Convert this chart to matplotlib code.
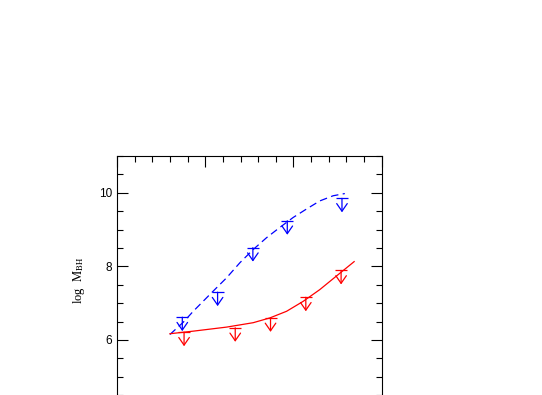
import matplotlib
matplotlib.use('Agg')
import matplotlib.pyplot as plt
from matplotlib.ticker import MultipleLocator

plt.rcParams['mathtext.fontset'] = 'stix'
plt.rcParams['font.family'] = ['Liberation Sans', 'DejaVu Sans']

# upper limits (cap positions)
blue_x = [0.74, 1.14, 1.54, 1.93, 2.55]
blue_y = [6.62, 7.30, 8.51, 9.24, 9.85]
red_x = [0.76, 1.34, 1.74, 2.14, 2.54]
red_y = [6.21, 6.33, 6.60, 7.16, 7.89]

# model curves
blue_cx = [0.600, 0.75, 0.864, 1.091, 1.242, 1.393, 1.544, 1.695, 1.846, 1.997, 2.148, 2.299, 2.450, 2.582]
blue_cy = [6.15, 6.48, 6.78, 7.33, 7.69, 8.10, 8.46, 8.78, 9.06, 9.33, 9.56, 9.78, 9.92, 9.98]
red_cx = [0.600, 0.864, 1.242, 1.544, 1.733, 1.922, 2.110, 2.299, 2.488, 2.688]
red_cy = [6.17, 6.24, 6.35, 6.47, 6.60, 6.78, 7.05, 7.37, 7.74, 8.13]

arrow_len = 0.38

fig = plt.figure(figsize=(5.42, 3.95), dpi=100)
ax = fig.add_axes([0.2159, -0.047, 0.4883, 0.652])

ax.plot(blue_cx, blue_cy, color='#0000ff', lw=0.9, linestyle=(0, (6, 3.5)))
ax.plot(red_cx, red_cy, color='#ff0000', lw=0.9)

for xs, ys, c in [(blue_x, blue_y, '#0000ff'), (red_x, red_y, '#ff0000')]:
    ax.plot(xs, ys, linestyle='none', marker='_', markersize=8,
            markeredgewidth=0.9, color=c)
    for x, y in zip(xs, ys):
        ax.annotate('', xy=(x, y - arrow_len), xytext=(x, y),
                    arrowprops=dict(arrowstyle='->, head_width=0.38, head_length=0.55',
                                    color=c, lw=0.9, shrinkA=0, shrinkB=0))

ax.set_xlim(0, 3)
ax.set_ylim(4, 11)
ax.xaxis.set_major_locator(MultipleLocator(1))
ax.xaxis.set_minor_locator(MultipleLocator(0.2))
ax.set_yticks([6, 8, 10])
ax.yaxis.set_minor_locator(MultipleLocator(0.5))
ax.tick_params(which='both', direction='in', top=True, right=True, width=0.8)
ax.tick_params(which='major', length=8, labelsize=8.5)
ax.tick_params(which='minor', length=4)
ax.tick_params(axis='x', labelbottom=False)
for s in ax.spines.values():
    s.set_linewidth(0.8)

ax.set_ylabel(r'log  $\mathrm{M}_{\mathrm{BH}}$', fontsize=9, family='Liberation Serif')
ax.yaxis.set_label_coords(-0.113, 0.519)

fig.savefig('out.png', dpi=100)
